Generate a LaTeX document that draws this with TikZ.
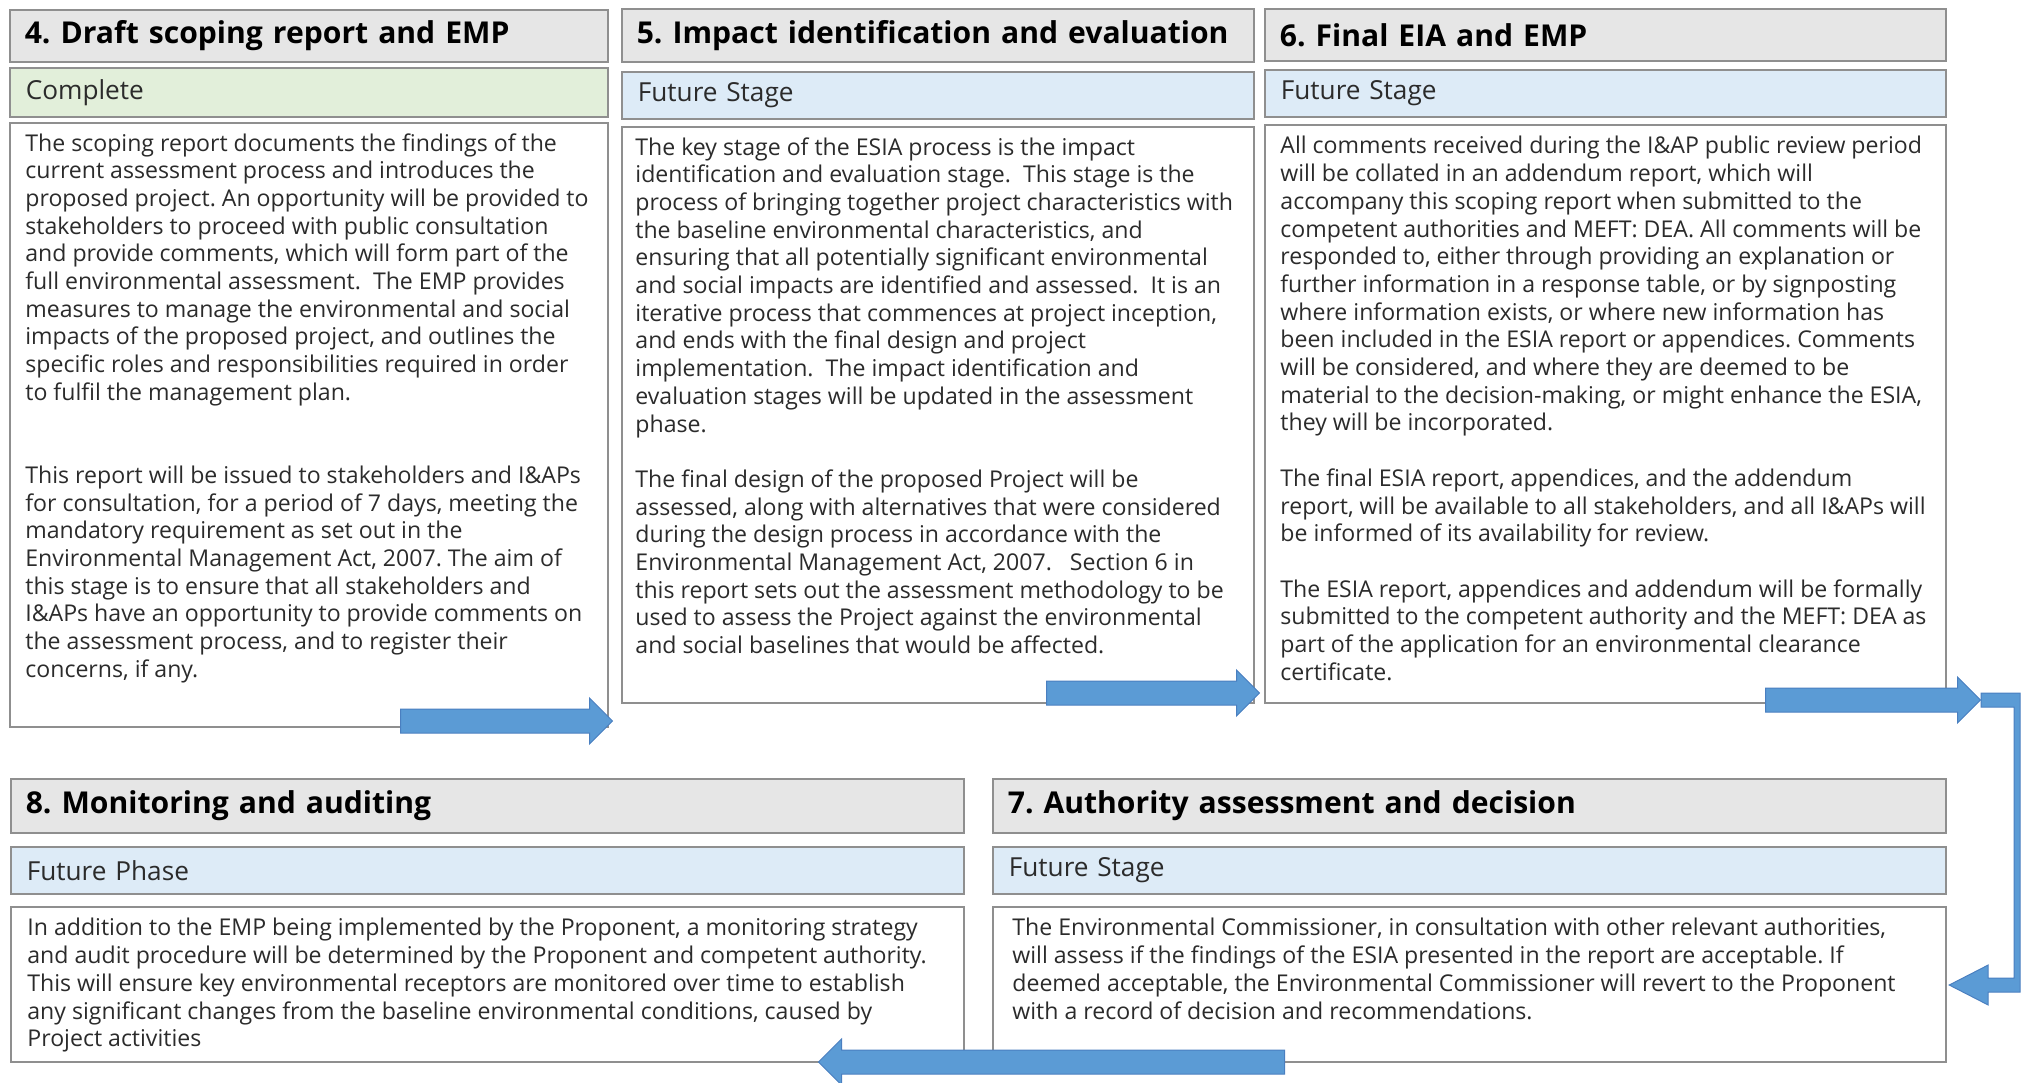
\documentclass[tikz,border=0pt]{standalone}
\usepackage{fontspec}
\setmainfont{Open Sans}
\usetikzlibrary{shapes.arrows}

\definecolor{headgray}{HTML}{E6E6E6}
\definecolor{edgegray}{HTML}{8F8F8F}
\definecolor{donegreen}{HTML}{E2EFDA}
\definecolor{futureblue}{HTML}{DDEBF7}
\definecolor{flowblue}{HTML}{5B9BD5}
\definecolor{flowedge}{HTML}{4A7FC0}
\definecolor{bodyink}{HTML}{2B2B2B}

\tikzset{
  stagehead/.style={draw=edgegray, fill=headgray, line width=0.8pt, anchor=north west,
    inner xsep=7.5pt, inner ysep=0pt, align=left, text=black,
    font=\bfseries\fontsize{15.05}{17}\selectfont},
  stagestatus/.style={draw=edgegray, line width=0.8pt, anchor=north west,
    inner xsep=8pt, inner ysep=0pt, align=left, text=bodyink,
    font=\fontsize{13.1}{15}\selectfont},
  stagebody/.style={draw=edgegray, fill=white, line width=0.8pt, anchor=north west, inner sep=0pt},
  stagetext/.style={anchor=north west, inner sep=0pt, align=left, text=bodyink,
    font=\fontsize{11.55}{13.85}\selectfont},
  flowarrow/.style={single arrow, draw=flowedge, fill=flowblue, line width=0.5pt, anchor=tail,
    inner xsep=0pt, inner ysep=5.75pt, minimum width=22.5pt, single arrow head extend=5.5pt},
  flowfill/.style={draw=flowedge, fill=flowblue, line width=0.5pt}
}

\begin{document}
\frenchspacing
\begin{tikzpicture}[x=0.5pt,y=0.5pt,yscale=-1,xscale=1]
    \useasboundingbox (0,0) rectangle (2029,1082);

    % stage 4
    \node[stagehead, text width=284pt, minimum height=26pt] (h4) at (9,9) {4. Draft scoping report and EMP};
    \node[stagestatus, fill=donegreen, text width=283pt, minimum height=24.5pt] (s4) at (9,67) {Complete};
    \node[stagebody, minimum width=299pt, minimum height=302pt] (b4) at (9,122) {};
    \node[stagetext] (t4) at (25,133) {The scoping report documents the findings of the\\
current assessment process and introduces the\\
proposed project. An opportunity will be provided to\\
stakeholders to proceed with public consultation\\
and provide comments, which will form part of the\\
full environmental assessment.\ \ The EMP provides\\
measures to manage the environmental and social\\
impacts of the proposed project, and outlines the\\
specific roles and responsibilities required in order\\
to fulfil the management plan.\\[27.7pt]
This report will be issued to stakeholders and I\&APs\\
for consultation, for a period of 7 days, meeting the\\
mandatory requirement as set out in the\\
Environmental Management Act, 2007. The aim of\\
this stage is to ensure that all stakeholders and\\
I\&APs have an opportunity to provide comments on\\
the assessment process, and to register their\\
concerns, if any.};

    % stage 5
    \node[stagehead, text width=301pt, minimum height=26.5pt] (h5) at (621,8) {5. Impact identification and evaluation};
    \node[stagestatus, fill=futureblue, text width=300pt, minimum height=23.5pt] (s5) at (621,71) {Future Stage};
    \node[stagebody, minimum width=316pt, minimum height=288pt] (b5) at (621,126) {};
    \node[stagetext] (t5) at (635,137) {The key stage of the ESIA process is the impact\\
identification and evaluation stage.\ \ This stage is the\\
process of bringing together project characteristics with\\
the baseline environmental characteristics, and\\
ensuring that all potentially significant environmental\\
and social impacts are identified and assessed.\ \ It is an\\
iterative process that commences at project inception,\\
and ends with the final design and project\\
implementation.\ \ The impact identification and\\
evaluation stages will be updated in the assessment\\
phase.\\[13.85pt]
The final design of the proposed Project will be\\
assessed, along with alternatives that were considered\\
during the design process in accordance with the\\
Environmental Management Act, 2007.\ \ \ Section 6 in\\
this report sets out the assessment methodology to be\\
used to assess the Project against the environmental\\
and social baselines that would be affected.};

    % stage 6
    \node[stagehead, text width=325.5pt, minimum height=26pt] (h6) at (1264,8) {6. Final EIA and EMP};
    \node[stagestatus, fill=futureblue, text width=324.5pt, minimum height=23.5pt] (s6) at (1264,69) {Future Stage};
    \node[stagebody, minimum width=340.5pt, minimum height=289pt] (b6) at (1264,124) {};
    \node[stagetext] (t6) at (1280,136) {All comments received during the I\&AP public review period\\
will be collated in an addendum report, which will\\
accompany this scoping report when submitted to the\\
competent authorities and MEFT: DEA. All comments will be\\
responded to, either through providing an explanation or\\
further information in a response table, or by signposting\\
where information exists, or where new information has\\
been included in the ESIA report or appendices. Comments\\
will be considered, and where they are deemed to be\\
material to the decision-making, or might enhance the ESIA,\\
they will be incorporated.\\[13.85pt]
The final ESIA report, appendices, and the addendum\\
report, will be available to all stakeholders, and all I\&APs will\\
be informed of its availability for review.\\[13.85pt]
The ESIA report, appendices and addendum will be formally\\
submitted to the competent authority and the MEFT: DEA as\\
part of the application for an environmental clearance\\
certificate.};

    % stage 8
    \node[stagehead, text width=461.5pt, minimum height=27pt] (h8) at (10,778) {8. Monitoring and auditing};
    \node[stagestatus, fill=futureblue, text width=460.5pt, minimum height=23.5pt] (s8) at (10,846) {Future Phase};
    \node[stagebody, minimum width=476.5pt, minimum height=77.5pt] (b8) at (10,906) {};
    \node[stagetext] (t8) at (27,918) {In addition to the EMP being implemented by the Proponent, a monitoring strategy\\
and audit procedure will be determined by the Proponent and competent authority.\\
This will ensure key environmental receptors are monitored over time to establish\\
any significant changes from the baseline environmental conditions, caused by\\
Project activities};

    % stage 7
    \node[stagehead, text width=461.5pt, minimum height=27pt] (h7) at (992,778) {7. Authority assessment and decision};
    \node[stagestatus, fill=futureblue, text width=460.5pt, minimum height=23.5pt] (s7) at (992,846) {Future Stage};
    \node[stagebody, minimum width=476.5pt, minimum height=77.5pt] (b7) at (992,906) {};
    \node[stagetext] (t7) at (1012,918) {The Environmental Commissioner, in consultation with other relevant authorities,\\
will assess if the findings of the ESIA presented in the report are acceptable. If\\
deemed acceptable, the Environmental Commissioner will revert to the Proponent\\
with a record of decision and recommendations.};

    % flow arrows
    \node[flowarrow, minimum height=106pt] (a4) at (400,721) {};
    \node[flowarrow, minimum height=106.5pt] (a5) at (1046,693) {};
    \node[flowarrow, minimum height=107.5pt] (a6) at (1765,700) {};
    \filldraw[flowfill] (a6.tip) ++(0,-7) -- ++(39,0) -- ++(0,299) -- ++(-32,0) -- ++(0,13)
        -- ++(-39,-20) -- ++(39,-20) -- ++(0,13) -- ++(26,0) -- ++(0,-271) -- ++(-33,0) -- cycle;
    \node[flowarrow, shape border rotate=180, minimum height=233pt] (a7) at (1285,1062) {};
\end{tikzpicture}
\end{document}
